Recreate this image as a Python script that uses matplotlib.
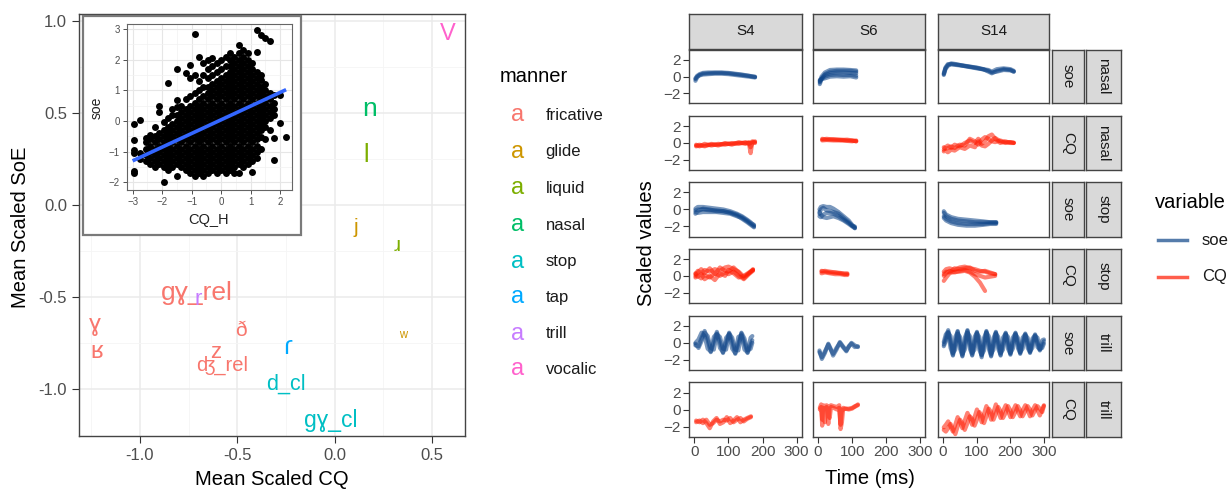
import numpy as np
import matplotlib
matplotlib.use('Agg')
import matplotlib.pyplot as plt
from matplotlib.patches import Rectangle
from matplotlib.lines import Line2D

plt.rcParams['font.family'] = ['Liberation Sans', 'DejaVu Sans']

# ---------------- data: main scatter of labels ----------------
lab_text = ['V', 'n', 'l', 'j', 'ɹ', 'ʷ', 'gɣ_rel', 'r', 'ɣ', 'ʁ', 'ð', 'z', 'ʤ_rel', 'ɾ', 'd_cl', 'gɣ_cl']
lab_cq = [0.58, 0.18, 0.16, 0.11, 0.32, 0.35, -0.71, -0.70, -1.23, -1.22, -0.48, -0.61, -0.58, -0.24, -0.25, -0.02]
lab_soe = [0.93, 0.52, 0.27, -0.12, -0.22, -0.72, -0.48, -0.51, -0.65, -0.80, -0.68, -0.80, -0.87, -0.77, -0.97, -1.17]
lab_manner = ['vocalic', 'nasal', 'liquid', 'glide', 'liquid', 'glide', 'fricative', 'trill',
              'fricative', 'fricative', 'fricative', 'fricative', 'fricative', 'tap', 'stop', 'stop']
lab_size = [17, 19, 18, 15, 15, 12, 19, 16, 17, 17, 15, 16, 14.5, 19, 15.5, 16.5]

manner_levels = ['fricative', 'glide', 'liquid', 'nasal', 'stop', 'tap', 'trill', 'vocalic']
manner_colors = ['#F8766D', '#CD9600', '#7CAE00', '#00BE67', '#00BFC4', '#00A9FF', '#C77CFF', '#FF61CC']

# ---------------- data: inset scatter (CQ_H vs soe), read column by column ----------------
inset_columns = [
    (-2.95, [-1.70, -1.62, -1.05, -0.95, -0.62, -0.10]),
    (-2.75, [-1.25, -1.05, 0.03]),
    (-2.55, [-1.30, -1.10, -0.90, -0.70, -0.55]),
    (-2.40, [-1.40, -1.20, -1.00, -0.80, -0.60, -0.45]),
    (-2.25, [-1.50, -1.30, -1.10, -0.90, -0.70, -0.50, -0.20]),
    (-2.10, [-1.40, -1.20, -1.00, -0.80, -0.60, -0.40, 0.30, 0.49]),
    (-1.95, [-2.00, -1.50, -1.30, -1.10, -0.90, -0.70, -0.50, -0.30, -0.05]),
    (-1.80, [-1.60, -1.40, -1.20, -1.00, -0.80, -0.60, -0.40, -0.20, 0.10, 1.23]),
    (-1.65, [-1.50, -1.30, -1.10, -0.90, -0.70, -0.50, -0.30, -0.10, 0.20, 0.40]),
    (-1.50, [-1.80, -1.40, -1.20, -1.00, -0.80, -0.60, -0.40, -0.20, 0.00, 0.20, 0.47, 0.68, 1.70]),
    (-1.35, [-1.50, -1.30, -1.10, -0.90, -0.70, -0.50, -0.30, -0.10, 0.10, 0.30, 0.50]),
    (-1.20, [-1.60, -1.40, -1.20, -1.00, -0.80, -0.60, -0.40, -0.20, 0.00, 0.20, 0.40, 0.70, 1.55]),
    (-1.05, [-1.70, -1.50, -1.30, -1.10, -0.90, -0.70, -0.50, -0.30, -0.10, 0.10, 0.30, 0.50, 0.80, 1.40, 1.82]),
    (-0.90, [-1.80, -1.60, -1.40, -1.20, -1.00, -0.80, -0.60, -0.40, -0.20, 0.00, 0.20, 0.40, 0.60, 0.90, 1.50, 2.84]),
    (-0.75, [-1.70, -1.50, -1.30, -1.10, -0.90, -0.70, -0.50, -0.30, -0.10, 0.10, 0.30, 0.50, 0.70, 1.00, 1.30, 2.10]),
    (-0.60, [-1.80, -1.60, -1.40, -1.20, -1.00, -0.80, -0.60, -0.40, -0.20, 0.00, 0.20, 0.40, 0.60, 0.80, 1.10, 1.50, 1.90]),
    (-0.45, [-1.70, -1.50, -1.30, -1.10, -0.90, -0.70, -0.50, -0.30, -0.10, 0.10, 0.30, 0.50, 0.70, 0.90, 1.10, 1.40, 1.70, 2.00]),
    (-0.30, [-1.60, -1.40, -1.20, -1.00, -0.80, -0.60, -0.40, -0.20, 0.00, 0.20, 0.40, 0.60, 0.80, 1.00, 1.20, 1.50, 1.80, 2.05]),
    (-0.15, [-1.70, -1.50, -1.30, -1.10, -0.90, -0.70, -0.50, -0.30, -0.10, 0.10, 0.30, 0.50, 0.70, 0.90, 1.10, 1.30, 1.60, 1.90]),
    (0.00, [-1.60, -1.40, -1.20, -1.00, -0.80, -0.60, -0.40, -0.20, 0.00, 0.20, 0.40, 0.60, 0.80, 1.00, 1.20, 1.40, 1.70, 2.00]),
    (0.15, [-1.70, -1.50, -1.30, -1.10, -0.90, -0.70, -0.50, -0.30, -0.10, 0.10, 0.30, 0.50, 0.70, 0.90, 1.10, 1.30, 1.50, 1.80, 2.10]),
    (0.30, [-1.60, -1.40, -1.20, -1.00, -0.80, -0.60, -0.40, -0.20, 0.00, 0.20, 0.40, 0.60, 0.80, 1.00, 1.20, 1.40, 1.60, 1.80, 2.00, 2.20]),
    (0.45, [-1.70, -1.50, -1.30, -1.10, -0.90, -0.70, -0.50, -0.30, -0.10, 0.10, 0.30, 0.50, 0.70, 0.90, 1.10, 1.30, 1.50, 1.70, 1.90, 2.10]),
    (0.60, [-1.68, -1.40, -1.20, -1.00, -0.80, -0.60, -0.40, -0.20, 0.00, 0.20, 0.40, 0.60, 0.80, 1.00, 1.20, 1.40, 1.60, 1.80, 2.00, 2.20, 2.48]),
    (0.75, [-1.50, -1.30, -1.10, -0.90, -0.70, -0.50, -0.30, -0.10, 0.10, 0.30, 0.50, 0.70, 0.90, 1.10, 1.30, 1.50, 1.70, 1.90, 2.10, 2.30]),
    (0.90, [-1.40, -1.20, -1.00, -0.80, -0.60, -0.40, -0.20, 0.00, 0.20, 0.40, 0.60, 0.80, 1.00, 1.20, 1.40, 1.60, 1.80, 2.00, 2.20]),
    (1.05, [-1.65, -1.30, -1.10, -0.90, -0.70, -0.50, -0.30, -0.10, 0.10, 0.30, 0.50, 0.70, 0.90, 1.10, 1.30, 1.50, 1.70, 1.90]),
    (1.20, [-1.20, -1.00, -0.80, -0.60, -0.40, -0.20, 0.00, 0.20, 0.40, 0.60, 0.80, 1.00, 1.20, 1.40, 1.60, 2.26, 2.95]),
    (1.35, [-0.90, -0.51, -0.30, -0.10, 0.10, 0.30, 0.50, 0.70, 0.90, 1.10, 1.34, 1.50, 2.80]),
    (1.50, [-0.60, -0.20, 0.00, 0.20, 0.40, 0.60, 0.80, 1.00, 1.20, 2.70]),
    (1.65, [-0.30, 0.10, 0.30, 0.50, 0.70, 0.90, 2.59]),
    (1.80, [-1.27, -0.57, 0.20, 0.40, 0.60, 0.85]),
    (1.98, [-0.08, 0.85]),
    (2.18, [-0.51]),
]
fit_cq = [-3.0, 2.2]
fit_soe = [-1.3, 1.02]

# ---------------- data: facet traces (time in ms, scaled values) ----------------
nan = np.nan
col_names = ['S4', 'S6', 'S14']
row_var = ['soe', 'CQ', 'soe', 'CQ', 'soe', 'CQ']
row_manner = ['nasal', 'nasal', 'stop', 'stop', 'trill', 'trill']

t_s4_nasal_soe = [3, 8, 15, 25, 40, 60, 80, 100, 120, 140, 160, 178]
y_s4_nasal_soe = [[-0.5, -0.1, 0.2, 0.35, 0.4, 0.45, 0.45, 0.4, 0.3, 0.2, 0.1, 0.0],
                  [-0.2, 0.1, 0.3, 0.45, 0.5, 0.5, 0.5, 0.45, 0.35, 0.25, 0.1, -0.05],
                  [-0.3, 0.0, 0.15, 0.25, 0.3, 0.35, 0.35, 0.3, 0.2, 0.1, 0.0, -0.1]]
t_s6_nasal_soe = [5, 10, 20, 35, 55, 75, 95, 112]
y_s6_nasal_soe = [[-0.9, -0.3, 0.3, 0.6, 0.7, 0.7, 0.7, 0.6],
                  [-0.7, -0.2, 0.2, 0.4, 0.5, 0.5, 0.45, 0.4],
                  [-0.5, -0.3, 0.0, 0.2, 0.25, 0.2, 0.2, 0.1],
                  [-0.4, -0.3, -0.2, 0.0, 0.05, 0.0, 0.05, -0.1],
                  [-0.6, 0.0, 0.5, 0.8, 0.85, 0.85, 0.8, 0.75]]
t_s14_nasal_soe = [3, 8, 15, 25, 40, 60, 80, 100, 120, 135, 145, 160, 180, 200, 210]
y_s14_nasal_soe = [[0.3, 1.0, 1.4, 1.6, 1.5, 1.3, 1.2, 1.1, 0.9, 0.6, 0.4, 0.7, 0.9, 0.8, 0.6],
                   [0.4, 1.1, 1.5, 1.5, 1.4, 1.3, 1.15, 1.0, 0.9, 0.8, 0.6, 0.9, 1.0, 0.9, 0.7],
                   [0.2, 0.9, 1.3, 1.5, 1.45, 1.35, 1.2, 1.05, 0.85, 0.7, 0.5, 0.6, 0.8, 0.75, 0.6]]

t_s4_nasal_cq = [5, 15, 30, 50, 70, 90, 110, 130, 150, 160, 165, 170, 178]
y_s4_nasal_cq = [[-0.4, -0.3, -0.3, -0.2, -0.2, -0.1, -0.1, 0.0, 0.0, 0.0, -1.2, 0.1, 0.2],
                 [-0.2, -0.4, -0.1, -0.3, -0.1, -0.2, 0.0, -0.1, 0.1, -0.1, 0.0, 0.2, 0.0],
                 [-0.3, -0.2, -0.4, -0.1, -0.3, 0.0, -0.2, 0.1, -0.1, 0.1, -0.5, 0.0, 0.1]]
t_s6_nasal_cq = [12, 25, 45, 65, 85, 100, 112]
y_s6_nasal_cq = [[0.4, 0.5, 0.4, 0.4, 0.3, 0.3, 0.2],
                 [0.3, 0.35, 0.3, 0.3, 0.25, 0.2, 0.3],
                 [0.5, 0.4, 0.45, 0.35, 0.4, 0.3, 0.2]]
t_s14_nasal_cq = [3, 8, 15, 25, 35, 50, 65, 80, 95, 105, 115, 125, 135, 145, 155, 170, 185, 200, 210]
y_s14_nasal_cq = [[-0.8, -0.5, -0.3, -0.6, -0.2, -0.4, 0.0, 0.3, 0.0, 0.5, -0.1, 0.2, 0.8, 1.0, 0.5, 0.0, 0.2, 0.0, 0.0],
                  [-1.0, -0.9, -1.1, -0.8, -0.9, -0.5, -0.7, -0.3, -0.5, 0.2, -0.3, -0.4, -0.1, 0.3, 0.6, 0.2, 0.0, 0.1, 0.0],
                  [-0.5, -0.7, -0.6, -0.4, -0.6, -0.2, -0.3, 0.5, 0.2, -0.2, 0.4, 0.7, 0.5, 0.2, 0.1, 0.3, 0.1, 0.1, 0.05]]

t_s4_stop_soe = [3, 10, 25, 45, 65, 85, 105, 125, 140, 155, 165, 175]
y_s4_stop_soe = [[0.1, 0.3, 0.3, 0.2, 0.1, 0.0, -0.2, -0.5, -0.8, -1.2, -1.5, -1.9],
                 [-0.3, -0.4, -0.3, -0.3, -0.3, -0.4, -0.5, -0.8, -1.0, -1.4, -1.7, -2.0],
                 [-0.1, 0.0, 0.0, -0.1, -0.1, -0.2, -0.35, -0.6, -0.9, -1.3, -1.6, -1.8],
                 [-0.5, -0.2, 0.1, 0.0, -0.2, -0.2, -0.4, -0.7, -1.1, -1.5, -1.8, -2.1]]
t_s6_stop_soe = [4, 8, 15, 25, 35, 45, 60, 75, 90, 100, 108]
y_s6_stop_soe = [[0.0, 0.3, 0.4, 0.3, 0.3, 0.1, -0.3, -0.8, -1.3, -1.8, -2.2],
                 [-0.8, -0.9, -0.6, -0.4, -0.4, -0.5, -0.8, -1.2, -1.6, -1.9, -2.1],
                 [-0.3, -0.6, -0.9, -1.0, -0.9, -0.8, -1.0, -1.3, -1.7, -2.0, -2.2],
                 [-0.5, 0.0, 0.2, -0.1, -0.2, -0.3, -0.5, -1.0, -1.5, -1.9, -2.0]]
t_s14_stop_soe = [3, 10, 25, 45, 70, 95, 120, 140, 158]
y_s14_stop_soe = [[-0.4, -0.8, -1.1, -1.3, -1.4, -1.5, -1.5, -1.5, -1.5],
                  [-0.8, -1.1, -1.4, -1.6, -1.7, -1.7, -1.7, -1.6, -1.6],
                  [-1.0, -1.3, -1.6, -1.8, -1.9, -1.9, -1.8, -1.7, -1.7],
                  [-0.2, -0.6, -0.9, -1.1, -1.2, -1.3, -1.4, -1.5, -1.5]]

t_s4_stop_cq = [3, 10, 20, 30, 45, 60, 75, 90, 100, 115, 130, 145, 160, 172]
y_s4_stop_cq = [[0.2, 0.6, 0.3, 0.7, 0.5, 0.8, 0.6, 1.0, 1.1, 0.8, 0.5, -0.1, 0.3, 0.8],
                [-0.2, 0.0, -0.3, 0.1, -0.2, 0.3, 0.0, 0.4, 0.2, 0.5, 0.0, -0.4, 0.2, 0.6],
                [0.3, -0.1, 0.2, -0.4, 0.0, -0.5, 0.3, 0.0, 0.7, 0.3, -0.2, 0.0, 0.4, 0.7],
                [0.0, 0.4, 0.8, 0.3, 0.9, 0.2, 1.0, 0.6, 0.5, 1.0, 0.4, -0.3, 0.3, 0.7]]
t_s6_stop_cq = [10, 20, 35, 50, 65, 78, 86]
y_s6_stop_cq = [[0.5, 0.6, 0.5, 0.4, 0.3, 0.3, 0.2],
                [0.3, 0.4, 0.3, 0.2, 0.2, 0.1, 0.1],
                [0.6, 0.5, 0.4, 0.4, 0.35, 0.2, 0.3]]
t_s14_stop_cq = [3, 10, 20, 35, 50, 65, 80, 95, 110, 125, 140, 155]
y_s14_stop_cq = [[0.5, 0.8, 0.9, 0.7, 1.0, 1.1, 0.9, 0.8, 0.6, 0.5, 0.3, 0.2],
                 [-0.6, -0.2, 0.3, 0.5, 0.5, 0.6, 0.4, -0.1, -0.8, -1.8, nan, nan],
                 [0.2, 0.5, 0.4, 0.9, 0.8, 0.9, 1.0, 0.6, 0.5, 0.6, 0.4, 0.2],
                 [0.0, 0.3, 0.6, 0.4, 0.6, 0.7, 0.5, 0.2, 0.0, -0.2, -0.1, 0.0]]

t_s4_trill_soe = [3, 12, 21, 30, 39, 48, 57, 66, 75, 84, 93, 102, 111, 120, 129, 138, 147, 156, 165, 170]
y_s4_trill_soe = [[-0.3, -0.4, 0.6, 1.4, 0.3, -1.1, 0.1, 1.3, 0.1, -1.2, 0.0, 1.2, 0.1, -1.3, -0.1, 1.1, 0.0, -1.2, -0.2, 0.3],
                  [-0.1, -0.6, 0.2, 1.2, 0.8, -0.6, -0.8, 1.0, 0.7, -0.7, -0.8, 1.1, 0.6, -0.8, -0.9, 1.2, 0.5, -0.9, -0.7, 0.0],
                  [0.0, 0.4, 1.2, 0.8, -0.7, -1.0, 0.7, 1.1, -0.6, -1.1, 0.6, 1.0, -0.7, -1.2, 0.7, 0.9, -0.8, -1.1, 0.6, 0.8]]
t_s6_trill_soe = [4, 11, 20, 30, 37, 44, 54, 64, 73, 83, 90, 98, 108, 117]
y_s6_trill_soe = [[-0.9, -1.9, -1.2, -0.1, -0.7, -1.5, -0.8, 0.1, -0.4, -0.9, -0.5, 0.0, -0.3, -0.5],
                  [-1.1, -1.7, -1.0, -0.2, -0.8, -1.3, -0.6, 0.0, -0.5, -1.0, -0.4, -0.1, -0.5, -0.4]]
t_s14_trill = [3, 9, 16, 23, 30, 37, 44, 51, 58, 65, 73, 80, 87, 94, 101, 108, 115, 122, 129, 136, 143, 150,
               157, 164, 171, 178, 186, 193, 200, 207, 215, 222, 229, 236, 244, 251, 258, 265, 273, 280, 287, 294, 299]
y_s14_trill_soe = [[-0.2, 0.6, 1.5, 0.1, -1.5, -0.1, 1.4, 0.0, -1.6, -0.1, 1.5, 0.0, -1.5, 0.0, 1.3, -0.1, -1.7, -0.1, 1.4, 0.0, -1.6, -0.1,
                    1.3, -0.1, -1.5, -0.1, 1.2, -0.1, -1.4, 0.0, 1.2, 0.0, -1.3, 0.0, 1.1, 0.0, -1.2, 0.0, 1.0, 0.0, -0.9, -0.3, 0.2],
                   [-0.4, 0.2, 1.2, 0.8, -1.2, -0.8, 1.1, 0.7, -1.3, -0.8, 1.2, 0.8, -1.2, -0.8, 1.1, 0.7, -1.4, -0.9, 1.2, 0.8, -1.3, -0.8,
                    1.1, 0.7, -1.2, -0.8, 1.0, 0.7, -1.2, -0.7, 1.0, 0.6, -1.1, -0.7, 0.9, 0.6, -1.0, -0.6, 0.8, 0.6, -0.7, -0.6, -0.1],
                   [0.1, 1.0, 1.3, -0.6, -1.4, 0.7, 1.3, -0.7, -1.5, 0.6, 1.4, -0.7, -1.4, 0.7, 1.2, -0.8, -1.5, 0.6, 1.3, -0.7, -1.5, 0.6,
                    1.2, -0.7, -1.4, 0.6, 1.1, -0.7, -1.3, 0.6, 1.1, -0.6, -1.2, 0.6, 1.0, -0.6, -1.1, 0.5, 0.9, -0.5, -0.8, 0.3, 0.4]]

t_s4_trill_cq = [5, 15, 25, 35, 45, 55, 65, 75, 85, 95, 105, 115, 125, 135, 145, 155, 166]
y_s4_trill_cq = [[-1.3, -1.5, -1.2, -1.6, -2.2, -1.4, -1.0, -1.7, -1.5, -0.9, -1.6, -1.3, -0.9, -1.5, -1.2, -1.0, -0.8],
                 [-1.5, -1.3, -1.6, -1.2, -1.8, -1.6, -1.2, -1.4, -1.2, -1.3, -1.0, -1.5, -1.2, -1.0, -1.4, -1.1, -0.9]]
t_s6_trill_cq = [5, 9, 12, 15, 20, 25, 30, 34, 38, 45, 55, 62, 66, 70, 74, 80, 90, 100, 108, 117]
y_s6_trill_cq = [[0.2, 0.6, -1.9, 0.5, 0.4, 0.5, -1.7, 0.4, 0.5, 0.4, 0.3, 0.5, -2.3, -1.5, 0.2, 0.1, 0.1, 0.2, 0.3, 0.6],
                 [0.0, 0.3, -1.2, 0.2, -1.5, 0.3, 0.0, -1.0, 0.3, 0.2, 0.0, 0.2, -1.8, 0.0, 0.0, 0.1, 0.0, 0.1, 0.4, 0.5]]
y_s14_trill_cq = [[-2.1, -1.8, -1.4, -2.0, -2.6, -1.8, -0.9, -1.5, -2.2, -1.3, -0.4, -1.0, -1.8, -0.9, 0.0, -0.6, -1.5, -0.5, 0.4, -0.3, -1.2, -0.3,
                   0.6, -0.2, -1.0, -0.2, 0.5, -0.2, -0.9, -0.2, 0.5, -0.2, -0.8, -0.1, 0.5, -0.1, -0.8, -0.1, 0.5, -0.1, -0.7, 0.0, 0.5],
                  [-2.4, -2.6, -2.2, -1.7, -2.3, -2.9, -2.0, -1.2, -1.6, -2.4, -1.6, -0.8, -1.1, -1.9, -1.2, -0.3, -0.7, -1.6, -0.8, 0.1, -0.3, -1.2,
                   -0.5, 0.3, -0.2, -1.0, -0.4, 0.4, -0.1, -0.9, -0.3, 0.4, -0.1, -0.8, -0.2, 0.4, 0.0, -0.7, -0.1, 0.4, 0.1, -0.3, 0.4]]

var_colors = {'soe': '#0D4488', 'CQ': '#FF1A00'}

# table used for drawing (row, col) -> (time, traces)
panels = {
    (0, 0): (t_s4_nasal_soe, y_s4_nasal_soe), (0, 1): (t_s6_nasal_soe, y_s6_nasal_soe), (0, 2): (t_s14_nasal_soe, y_s14_nasal_soe),
    (1, 0): (t_s4_nasal_cq, y_s4_nasal_cq), (1, 1): (t_s6_nasal_cq, y_s6_nasal_cq), (1, 2): (t_s14_nasal_cq, y_s14_nasal_cq),
    (2, 0): (t_s4_stop_soe, y_s4_stop_soe), (2, 1): (t_s6_stop_soe, y_s6_stop_soe), (2, 2): (t_s14_stop_soe, y_s14_stop_soe),
    (3, 0): (t_s4_stop_cq, y_s4_stop_cq), (3, 1): (t_s6_stop_cq, y_s6_stop_cq), (3, 2): (t_s14_stop_cq, y_s14_stop_cq),
    (4, 0): (t_s4_trill_soe, y_s4_trill_soe), (4, 1): (t_s6_trill_soe, y_s6_trill_soe), (4, 2): (t_s14_trill, y_s14_trill_soe),
    (5, 0): (t_s4_trill_cq, y_s4_trill_cq), (5, 1): (t_s6_trill_cq, y_s6_trill_cq), (5, 2): (t_s14_trill, y_s14_trill_cq),
}

# ---------------- figure ----------------
W, H = 1229, 490
fig = plt.figure(figsize=(W / 100, H / 100), dpi=100)
fig.patch.set_facecolor('white')


def add_ax(l, t, r, b, **kw):
    return fig.add_axes([l / W, 1 - b / H, (r - l) / W, (b - t) / H], **kw)


def fx(x):
    return x / W


def fy(y):
    return 1 - y / H


TICK_LAB = '#4D4D4D'
BORDER = '#444444'

# ---- main panel ----
ax = add_ax(79, 14, 465, 436)
ax.set_xlim(-1.313, 0.67)
ax.set_ylim(-1.254, 1.038)
ax.set_xticks([-1.0, -0.5, 0.0, 0.5])
ax.set_xticklabels(['-1.0', '-0.5', '0.0', '0.5'])
ax.set_yticks([-1.0, -0.5, 0.0, 0.5, 1.0])
ax.set_yticklabels(['-1.0', '-0.5', '0.0', '0.5', '1.0'])
ax.set_xticks([-1.25, -0.75, -0.25, 0.25], minor=True)
ax.set_yticks([-0.75, -0.25, 0.25, 0.75], minor=True)
ax.grid(which='major', color='#EBEBEB', lw=1.1)
ax.grid(which='minor', color='#F5F5F5', lw=0.6)
ax.set_axisbelow(True)
ax.tick_params(which='minor', length=0)
ax.tick_params(which='major', length=5, width=0.8, color='#333333', labelsize=12, labelcolor=TICK_LAB)
for s in ax.spines.values():
    s.set_color(BORDER)
    s.set_linewidth(1.0)
cmap = dict(zip(manner_levels, manner_colors))
for txt, x, y, m, sz in zip(lab_text, lab_cq, lab_soe, lab_manner, lab_size):
    ax.text(x, y, txt, color=cmap[m], fontsize=sz, ha='center', va='center')

fig.text(fx(272), fy(479), 'Mean Scaled CQ', fontsize=14.5, ha='center', va='center')
fig.text(fx(21), fy(227), 'Mean Scaled SoE', fontsize=14.5, ha='center', va='center', rotation=90)

# ---- inset ----
fig.patches.append(Rectangle((fx(83), fy(235)), (301 - 83) / W, (235 - 16) / H, transform=fig.transFigure,
                             facecolor='white', edgecolor='#7A7A7A', lw=1.6, zorder=5))
axi = add_ax(126.7, 24, 292, 190)
axi.set_zorder(6)
axi.set_xlim(-3.2, 2.4)
axi.set_ylim(-2.25, 3.16)
axi.set_xticks([-3, -2, -1, 0, 1, 2])
axi.set_yticks([-2, -1, 0, 1, 2, 3])
axi.set_xticks([-2.5, -1.5, -0.5, 0.5, 1.5], minor=True)
axi.set_yticks([-1.5, -0.5, 0.5, 1.5, 2.5], minor=True)
axi.grid(which='major', color='#E6E6E6', lw=0.8)
axi.grid(which='minor', color='#F2F2F2', lw=0.5)
axi.set_axisbelow(True)
axi.tick_params(which='minor', length=0)
axi.tick_params(which='major', length=3, width=0.6, color='#333333', labelsize=7, labelcolor=TICK_LAB, pad=2)
for s in axi.spines.values():
    s.set_color('#666666')
    s.set_linewidth(0.8)
inset_cq = [c for c, ys in inset_columns for _ in ys]
inset_soe = [y for _, ys in inset_columns for y in ys]
axi.scatter(inset_cq, inset_soe, s=25, c='black', linewidths=0, zorder=3)
axi.plot(fit_cq, fit_soe, color='#3366FF', lw=2.6, zorder=4, solid_capstyle='butt')
fig.text(fx(209), fy(220), 'CQ_H', fontsize=10.5, ha='center', va='center', color='#222222', zorder=7)
fig.text(fx(97), fy(108), 'soe', fontsize=10, ha='center', va='center', rotation=90, color='#222222', zorder=7)

# ---- manner legend ----
fig.text(fx(500), fy(77), 'manner', fontsize=14.5, ha='left', va='center')
leg_y = [115, 151.7, 188.3, 225, 261.7, 297.3, 334, 369.3]
for lev, col, yy in zip(manner_levels, manner_colors, leg_y):
    fig.text(fx(518), fy(yy), 'a', color=col, fontsize=17, ha='center', va='center')
    fig.text(fx(545.7), fy(yy), lev, fontsize=12, ha='left', va='center', color='#1A1A1A')

# ---- facets ----
col_px = [(689.3, 801.7), (813, 925.3), (937.7, 1049.3)]
row_px = [(50, 103.3), (116, 170), (182.3, 236.7), (249, 302.7), (315.7, 370), (382.3, 436.7)]
STRIP = '#D9D9D9'


def strip(l, t, r, b, text, rot=0):
    sa = add_ax(l, t, r, b)
    sa.set_facecolor(STRIP)
    sa.set_xticks([])
    sa.set_yticks([])
    for s in sa.spines.values():
        s.set_color(BORDER)
        s.set_linewidth(1.0)
    sa.text(0.5, 0.5, text, transform=sa.transAxes, ha='center', va='center', fontsize=11,
            color='#1A1A1A', rotation=rot)


for ci, (l, r) in enumerate(col_px):
    strip(l, 14, r, 48.7, col_names[ci])
for ri, (t, b) in enumerate(row_px):
    strip(1051.7, t, 1084.3, b, row_var[ri], rot=-90)
    strip(1085.7, t, 1121, b, row_manner[ri], rot=-90)

for ri, (t, b) in enumerate(row_px):
    for ci, (l, r) in enumerate(col_px):
        pa = add_ax(l, t, r, b)
        pa.set_xlim(-15, 315)
        pa.set_ylim(-3.2, 3.2)
        for s in pa.spines.values():
            s.set_color(BORDER)
            s.set_linewidth(1.0)
        tt, traces = panels[(ri, ci)]
        colr = var_colors[row_var[ri]]
        for tr in traces:
            pa.plot(tt, tr, color=colr, alpha=0.55, lw=3.0, solid_capstyle='round', solid_joinstyle='round')
        pa.set_xticks([0, 100, 200, 300])
        pa.set_yticks([-2, 0, 2])
        pa.tick_params(length=4, width=0.8, color='#333333', labelsize=11, labelcolor=TICK_LAB, pad=2)
        if ci != 0:
            pa.tick_params(axis='y', left=False, labelleft=False)
        if ri != len(row_px) - 1:
            pa.tick_params(axis='x', bottom=False, labelbottom=False)

fig.text(fx(647), fy(243), 'Scaled values', fontsize=14.5, ha='center', va='center', rotation=90)
fig.text(fx(870), fy(478), 'Time (ms)', fontsize=14.5, ha='center', va='center')

# ---- variable legend ----
fig.text(fx(1155), fy(202), 'variable', fontsize=14.5, ha='left', va='center')
for name, yy in [('soe', 240), ('CQ', 277)]:
    fig.lines.append(Line2D([fx(1158), fx(1187)], [fy(yy), fy(yy)], transform=fig.transFigure,
                            color=var_colors[name], alpha=0.7, lw=2.5))
    fig.text(fx(1202), fy(yy), name, fontsize=12, ha='left', va='center', color='#1A1A1A')

fig.savefig('out.png', dpi=100, facecolor='white')
